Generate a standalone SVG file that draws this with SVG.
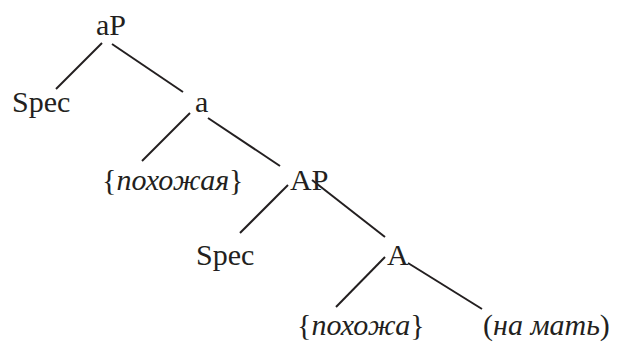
<svg xmlns="http://www.w3.org/2000/svg" width="620" height="348" viewBox="0 0 620 348">
<style>
.t{font-size:30px;fill:#231f20}
.i{font-style:italic}
.e{stroke:#231f20;stroke-width:2}
</style>
<rect width="620" height="348" fill="#fff"/>
<g id="edges" class="e">
<line x1="102" y1="43" x2="56" y2="89"/>
<line x1="112" y1="44" x2="183" y2="92"/>
<line x1="190" y1="113" x2="142" y2="161"/>
<line x1="208" y1="118" x2="280" y2="166"/>
<line x1="288" y1="185" x2="240" y2="233"/>
<line x1="312" y1="180" x2="385" y2="237"/>
<line x1="385" y1="257" x2="336" y2="307"/>
<line x1="408" y1="263" x2="482" y2="309"/>
</g>
<g class="t" font-family="'Liberation Serif', 'Times New Roman', 'DejaVu Serif', serif">
<g id="aP"><text x="96" y="35">aP</text></g>
<g id="spec1"><text x="12" y="112">Spec</text></g>
<g id="a"><text x="195" y="112">a</text></g>
<g id="pokhozhaya"><text x="102" y="190">{<tspan class="i">похожая</tspan>}</text></g>
<g id="AP"><text x="290" y="190">AP</text></g>
<g id="spec2"><text x="196" y="265">Spec</text></g>
<g id="A"><text x="387" y="265">A</text></g>
<g id="pokhozha"><text x="297" y="335">{<tspan class="i">похожа</tspan>}</text></g>
<g id="namat"><text x="483" y="335">(<tspan class="i">на мать</tspan>)</text></g>
</g>
</svg>
